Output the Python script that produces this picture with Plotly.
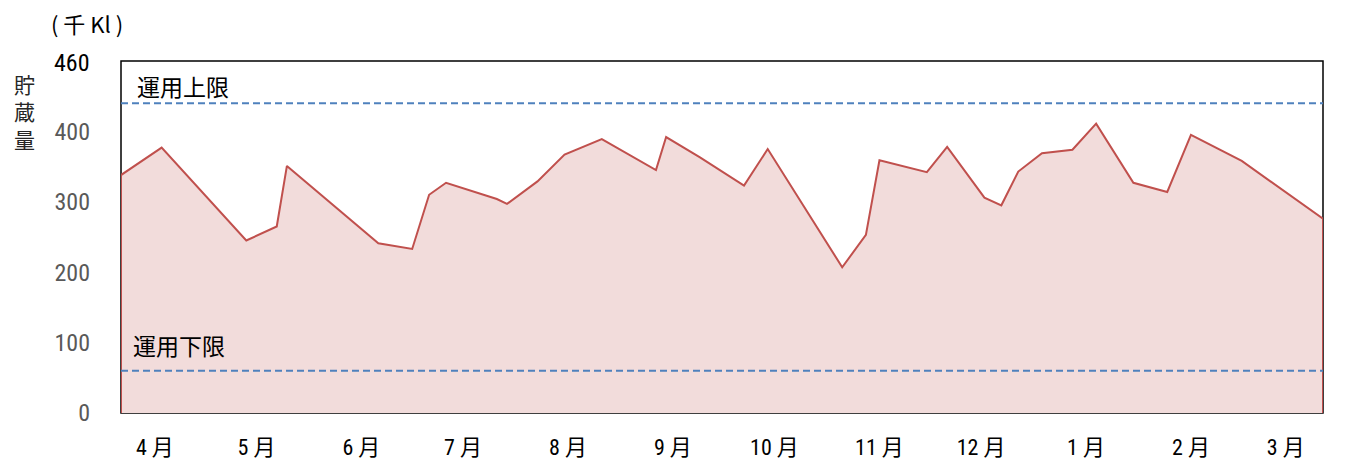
import plotly.graph_objects as go

# ---- data ----
dates = ["2022-04-01", "2022-04-13", "2022-05-08", "2022-05-17", "2022-05-20",
         "2022-06-16", "2022-06-26", "2022-07-01", "2022-07-06", "2022-07-21",
         "2022-07-24", "2022-08-02", "2022-08-10", "2022-08-21", "2022-09-06",
         "2022-09-09", "2022-09-19", "2022-10-02", "2022-10-09", "2022-10-31",
         "2022-11-07", "2022-11-11", "2022-11-25", "2022-12-01", "2022-12-12",
         "2022-12-17", "2022-12-22", "2022-12-29", "2023-01-07", "2023-01-14",
         "2023-01-25", "2023-02-04", "2023-02-11", "2023-02-26", "2023-03-22"]
stock = [338, 377, 245, 265, 351,
         241, 233, 310, 327, 304,
         297, 329, 367, 389, 345,
         392, 363, 323, 375, 207,
         253, 359, 342, 378, 306,
         295, 343, 369, 374, 411,
         327, 314, 395, 358, 276]
upper_limit = 440
lower_limit = 60
month_ticks = ["2022-04-11", "2022-05-11", "2022-06-11", "2022-07-11", "2022-08-11",
               "2022-09-11", "2022-10-11", "2022-11-11", "2022-12-11", "2023-01-11",
               "2023-02-11", "2023-03-11"]
month_labels = ["4 月", "5 月", "6 月", "7 月", "8 月", "9 月",
                "10 月", "11 月", "12 月", "1 月", "2 月", "3 月"]
y_ticks = [0, 100, 200, 300, 400]
y_top = 500
y_top_label = "460"

FONT = "Roboto Condensed, Noto Sans CJK JP, sans-serif"
CJK = "Noto Sans CJK JP, sans-serif"

fig = go.Figure()

poly_x = [dates[0]] + dates + [dates[-1]]
poly_y = [0] + stock + [0]
fig.add_trace(go.Scatter(
    x=poly_x, y=poly_y, mode="lines", fill="toself",
    fillcolor="#F2DCDB", line=dict(color="#C0504D", width=2),
    hoverinfo="skip", showlegend=False))

shapes = [
    dict(type="rect", xref="paper", yref="paper", x0=0, x1=1, y0=0, y1=1,
         line=dict(color="black", width=1.5), layer="below"),
    dict(type="line", xref="paper", yref="y", x0=0, x1=1, y0=upper_limit, y1=upper_limit,
         line=dict(color="#4F81BD", width=2.2, dash="7px,4px"), layer="above"),
    dict(type="line", xref="paper", yref="y", x0=0, x1=1, y0=lower_limit, y1=lower_limit,
         line=dict(color="#4F81BD", width=2.2, dash="7px,4px"), layer="above"),
]

annotations = [
    dict(text="運用上限", xref="paper", yref="y", x=0, y=464, xanchor="left",
         yanchor="middle", xshift=14, showarrow=False,
         font=dict(family=CJK, size=23, color="black")),
    dict(text="運用下限", xref="paper", yref="y", x=0, y=96, xanchor="left",
         yanchor="middle", xshift=10, showarrow=False,
         font=dict(family=CJK, size=23, color="black")),
    dict(text=y_top_label, xref="paper", yref="y", x=0, y=y_top, xanchor="right",
         yanchor="middle", xshift=-29, yshift=-2, showarrow=False,
         font=dict(family=FONT, size=24, color="black")),
    dict(text="( 千 Kl )", xref="paper", yref="paper", x=0, y=1, xanchor="left",
         yanchor="middle", xshift=-72, yshift=38, showarrow=False,
         font=dict(family=CJK, size=22, color="black")),
    dict(text="貯<br>蔵<br>量", xref="paper", yref="paper", x=0, y=1, xanchor="center",
         yanchor="top", xshift=-97, yshift=-6, showarrow=False,
         font=dict(family=CJK, size=21, color="#262626")),
]

fig.update_layout(
    width=1353, height=453,
    margin=dict(l=113, r=38, t=53, b=48, autoexpand=False),
    plot_bgcolor="white", paper_bgcolor="white",
    shapes=shapes, annotations=annotations,
    font=dict(family=FONT),
    xaxis=dict(type="date", range=[dates[0], dates[-1]], tickvals=month_ticks,
               ticktext=month_labels, showgrid=False, zeroline=False, showline=False,
               ticks="", ticklabelstandoff=19, automargin=False,
               tickfont=dict(family=FONT, size=22, color="black")),
    yaxis=dict(range=[0, y_top], tickvals=y_ticks, ticktext=[str(v) for v in y_ticks],
               showgrid=False, zeroline=False, showline=False, ticks="",
               ticklabelstandoff=30, automargin=False,
               tickfont=dict(family=FONT, size=24, color="#595959")),
)

fig.write_html("out.html")
